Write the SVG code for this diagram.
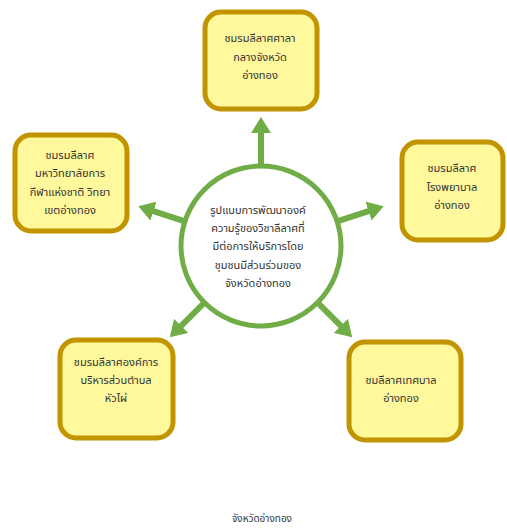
<svg xmlns="http://www.w3.org/2000/svg" width="507" height="531" viewBox="0 0 507 531">
<defs>
<style>
.box{fill:#FFF89C;stroke:#C29400;stroke-width:5}
.t{font-family:"Noto Sans Thai","Tahoma","Leelawadee UI","DejaVu Sans","Noto Sans",sans-serif;font-size:11px;fill:#333;text-anchor:middle}
.arr{stroke:#70AD47;stroke-width:6;fill:none;marker-end:url(#ah)}
</style>
<marker id="ah" viewBox="0 0 16 20" markerWidth="16" markerHeight="20" refX="1" refY="10" orient="auto" markerUnits="userSpaceOnUse">
<path d="M0,0 L16,10 L0,20 z" fill="#70AD47"/>
</marker>
</defs>
<rect width="507" height="531" fill="#fff"/>
<g id="connectors">
<line class="arr" x1="261" y1="166" x2="261" y2="132"/>
<line class="arr" x1="184.9" y1="221.3" x2="152.6" y2="210.8"/>
<line class="arr" x1="337.1" y1="221.3" x2="369.4" y2="210.8"/>
<line class="arr" x1="204.4" y1="302.6" x2="180.4" y2="326.6"/>
<line class="arr" x1="317.6" y1="302.6" x2="341.6" y2="326.6"/>
</g>
<g id="center">
<circle cx="261" cy="246" r="80" fill="#fff" stroke="#70AD47" stroke-width="5"/>
<text class="t" x="258" y="214">รูปแบบการพัฒนาองค์</text>
<text class="t" x="258" y="232">ความรู้ของวิชาลีลาศที่</text>
<text class="t" x="258" y="250">มีต่อการให้บริการโดย</text>
<text class="t" x="258" y="269">ชุมชนมีส่วนร่วมของ</text>
<text class="t" x="258" y="287">จังหวัดอ่างทอง</text>
</g>
<g id="top">
<rect class="box" x="205" y="12" width="112" height="97" rx="16"/>
<text class="t" x="260" y="42">ชมรมลีลาศศาลา</text>
<text class="t" x="260" y="61">กลางจังหวัด</text>
<text class="t" x="260" y="79">อ่างทอง</text>
</g>
<g id="left">
<rect class="box" x="15" y="135" width="112" height="96" rx="16"/>
<text class="t" x="70" y="159">ชมรมลีลาศ</text>
<text class="t" x="70" y="177">มหาวิทยาลัยการ</text>
<text class="t" x="70" y="196">กีฬาแห่งชาติ วิทยา</text>
<text class="t" x="70" y="214">เขตอ่างทอง</text>
</g>
<g id="right">
<rect class="box" x="402" y="142" width="101" height="98" rx="16"/>
<text class="t" x="452" y="172">ชมรมลีลาศ</text>
<text class="t" x="452" y="191">โรงพยาบาล</text>
<text class="t" x="452" y="209">อ่างทอง</text>
</g>
<g id="bottom-left">
<rect class="box" x="60" y="340" width="113" height="98" rx="16"/>
<text class="t" x="116" y="366">ชมรมลีลาศองค์การ</text>
<text class="t" x="116" y="384">บริหารส่วนตำบล</text>
<text class="t" x="116" y="402">หัวไผ่</text>
</g>
<g id="bottom-right">
<rect class="box" x="349" y="342" width="112" height="98" rx="16"/>
<text class="t" x="401" y="384">ชมลีลาศเทศบาล</text>
<text class="t" x="401" y="402">อ่างทอง</text>
</g>
<text class="t" x="262" y="522" style="font-size:10px">จังหวัดอ่างทอง</text>
</svg>
